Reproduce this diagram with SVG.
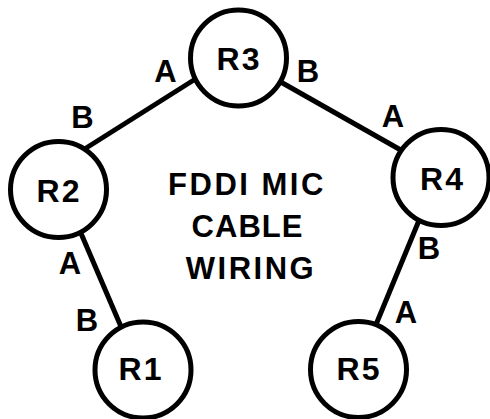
<svg xmlns="http://www.w3.org/2000/svg" width="490" height="419" viewBox="0 0 490 419">
<style>
.node circle{fill:#fff;stroke:#000;stroke-width:5}
.conn line{stroke:#000;stroke-width:5}
text{font-family:"Liberation Sans",Arial,sans-serif;font-weight:bold;fill:#000;text-anchor:middle}
.nl{font-size:32px;letter-spacing:2px}
.pl{font-size:31px}
.title{font-size:31px;letter-spacing:2.5px}
</style>
<rect width="490" height="419" fill="#fff"/>
<g id="connectors" class="conn">
<line x1="197" y1="78" x2="83" y2="150"/>
<line x1="279" y1="81" x2="406" y2="153"/>
<line x1="80" y1="231" x2="122" y2="329"/>
<line x1="420" y1="218" x2="375" y2="327"/>
</g>
<g id="R3" class="node"><circle cx="238.5" cy="58" r="48"/><text class="nl" x="239" y="70">R3</text></g>
<g id="R2" class="node"><circle cx="58.5" cy="189.5" r="48"/><text class="nl" x="59" y="202">R2</text></g>
<g id="R4" class="node"><circle cx="441" cy="177.5" r="48"/><text class="nl" x="442.5" y="190">R4</text></g>
<g id="R1" class="node"><circle cx="143" cy="370" r="48"/><text class="nl" x="141" y="380">R1</text></g>
<g id="R5" class="node"><circle cx="358.5" cy="369.5" r="48"/><text class="nl" x="359" y="380">R5</text></g>
<g id="port-labels">
<text class="pl" x="165.5" y="82">A</text>
<text class="pl" x="308" y="82">B</text>
<text class="pl" x="82.5" y="128">B</text>
<text class="pl" x="393" y="127">A</text>
<text class="pl" x="70" y="274">A</text>
<text class="pl" x="87" y="331">B</text>
<text class="pl" x="429" y="259">B</text>
<text class="pl" x="406" y="323">A</text>
</g>
<g id="title">
<text class="title" x="247" y="195">FDDI MIC</text>
<text class="title" x="247.5" y="237" style="letter-spacing:1px">CABLE</text>
<text class="title" x="251" y="279">WIRING</text>
</g>
</svg>
